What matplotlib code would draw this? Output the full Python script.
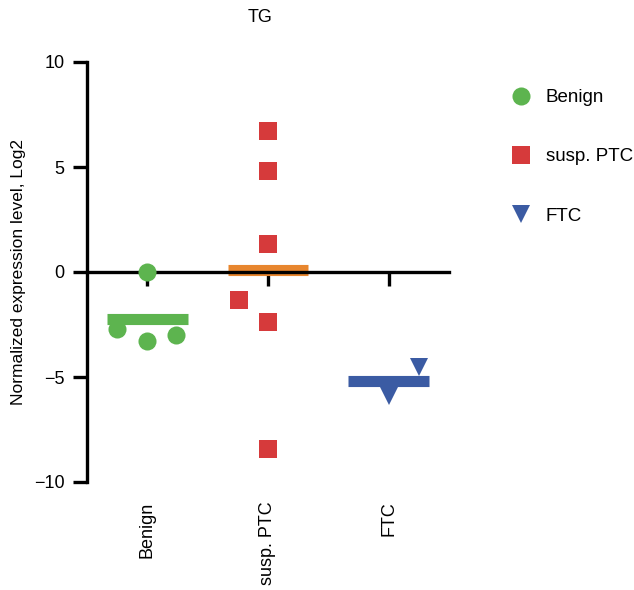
import matplotlib
matplotlib.use("Agg")
import matplotlib.pyplot as plt
import numpy as np

plt.rcParams['font.family'] = ['Liberation Sans', 'DejaVu Sans']

categories = ["Benign", "susp. PTC", "FTC"]
benign_vals = [0.0, -2.7, -3.3, -3.0]
benign_jitter = [0.0, -0.25, 0.0, 0.24]
ptc_vals = [6.70, 4.82, 1.32, -1.34, -2.37, -8.43]
ptc_jitter = [0.0, 0.0, 0.0, -0.24, 0.0, 0.0]
ftc_vals = [-4.5, -5.9]
ftc_jitter = [0.25, 0.0]

series = [
    ("Benign", benign_vals, benign_jitter, 'o', '#5DB44F', '#5DB44F', 13),
    ("susp. PTC", ptc_vals, ptc_jitter, 's', '#D63A3B', '#E8862E', 13.5),
    ("FTC", ftc_vals, ftc_jitter, 'v', '#3B5BA3', '#3B5BA3', 13),
]

fig = plt.figure(figsize=(6.34, 5.90), dpi=100)
ax = fig.add_axes([87/634, 1-482/590, (449-87)/634, (482-62)/590])

handles = []
for i, (name, vals, jit, mk, col, meancol, ms) in enumerate(series):
    xs = i + np.array(jit)
    h, = ax.plot(xs, vals, linestyle='none', marker=mk, color=col,
                 markersize=ms, markeredgewidth=0, label=name, zorder=3)
    handles.append(h)
    m = np.mean(vals)
    ax.plot([i - 0.333, i + 0.333], [m, m], color=meancol, lw=8,
            solid_capstyle='butt', zorder=2)

ax.set_xlim(-0.5, 2.5)
ax.set_ylim(-10, 10)
ax.set_yticks([-10, -5, 0, 5, 10])
ax.set_yticklabels(['\u221210', '\u22125', '0', '5', '10'])

for s in ['top', 'right']:
    ax.spines[s].set_visible(False)
ax.spines['left'].set_linewidth(2.4)
ax.spines['bottom'].set_linewidth(2.4)
ax.spines['bottom'].set_position(('data', 0))
ax.spines['left'].set_capstyle('projecting')

ax.set_xticks(range(len(categories)))
ax.set_xticklabels([])
ax.tick_params(axis='x', direction='out', length=10, width=2.4)
ax.tick_params(axis='y', direction='out', length=10, width=2.4,
               labelsize=13, pad=6)

sec = ax.secondary_xaxis(0)
sec.set_xticks(range(len(categories)))
sec.set_xticklabels(categories, rotation=90, fontsize=13, va='top')
sec.tick_params(length=0, pad=14)
sec.spines['bottom'].set_visible(False)

ax.set_ylabel("Normalized expression level, Log2", fontsize=12.5, labelpad=6)
fig.text(260/634, 1-17/590, "TG", ha='center', va='center', fontsize=13)

fig.legend(handles=handles, loc='upper left',
           bbox_to_anchor=(510/634, 1-89/590), frameon=False,
           fontsize=13.5, labelspacing=2.25, handletextpad=0.7,
           handlelength=1.2, borderaxespad=0, borderpad=0)

fig.savefig("out.png", dpi=100)
